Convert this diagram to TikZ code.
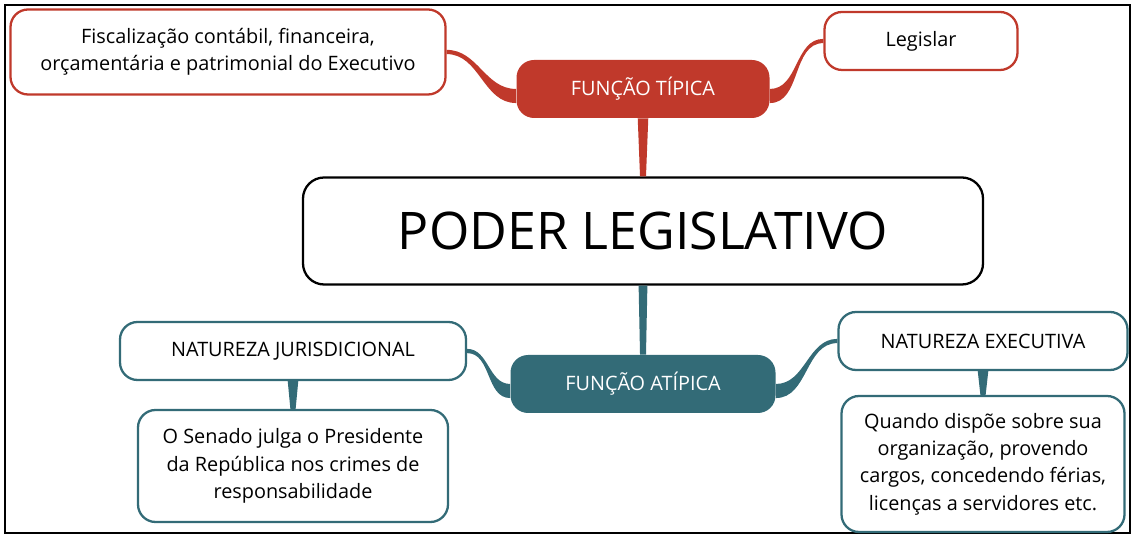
\documentclass[tikz,border=0pt]{standalone}
\usepackage{fontspec}
\setmainfont{Open Sans}
\definecolor{tipred}{HTML}{C0392B}
\definecolor{atipteal}{HTML}{336B77}

\begin{document}
\begin{tikzpicture}[
    leaf/.style={draw=#1, line width=1.3pt, fill=white, rounded corners=10pt,
        align=center, inner sep=0pt, font=\fontsize{11.3}{15.5}\selectfont},
    branch/.style={fill=#1, rounded corners=10pt, text=white, inner sep=0pt,
        minimum height=1.16cm, font=\fontsize{11.3}{14}\selectfont},
    root/.style={draw=black, line width=1.3pt, rounded corners=12pt, inner sep=0pt,
        minimum width=13.6cm, minimum height=2.14cm, font=\fontsize{29.5}{32}\selectfont}
]
    \useasboundingbox (0,0) rectangle (22.7,10.78);
    % Outer frame
    \draw[line width=0.8pt] (0.1,0.12) rectangle (22.6,10.68);

    % Centre
    \node[root] (poder) at (12.86, 6.16) {PODER LEGISLATIVO};

    % Typical function
    \node[branch=tipred, minimum width=5.06cm] (tipica) at (12.86, 9.0) {FUNÇÃO TÍPICA};
    \node[leaf=tipred, minimum width=8.7cm, minimum height=1.7cm] (fisc) at (4.56, 9.74)
        {Fiscalização contábil, financeira,\\ orçamentária e patrimonial do Executivo};
    \node[leaf=tipred, minimum width=3.86cm, minimum height=1.16cm] (legis) at (18.42, 9.96) {Legislar};

    % Atypical function
    \node[branch=atipteal, minimum width=5.3cm] (atipica) at (12.86, 3.1) {FUNÇÃO ATÍPICA};
    \node[leaf=atipteal, minimum width=6.92cm, minimum height=1.16cm] (juris) at (5.86, 3.76)
        {NATUREZA JURISDICIONAL};
    \node[leaf=atipteal, minimum width=6.2cm, minimum height=2.24cm] (senado) at (5.86, 1.46)
        {O Senado julga o Presidente\\ da República nos crimes de\\ responsabilidade};
    \node[leaf=atipteal, minimum width=5.78cm, minimum height=1.16cm] (exec) at (19.66, 3.96)
        {NATUREZA EXECUTIVA};
    \node[leaf=atipteal, minimum width=5.66cm, minimum height=2.72cm] (quando) at (19.66, 1.5)
        {Quando dispõe sobre sua\\ organização, provendo\\ cargos, concedendo férias,\\ licenças a servidores etc.};

    % Tapered links, typical side
    \fill[tipred] ([xshift=-3pt]tipica.south) -- ([xshift=3pt]tipica.south)
        -- ([xshift=1.7pt]poder.north) -- ([xshift=-1.7pt]poder.north) -- cycle;
    \fill[tipred] ([yshift=1.2pt]fisc.east) to[out=0, in=180] ([yshift=0pt]tipica.west)
        -- ([yshift=-8pt]tipica.west) to[out=180, in=0] ([yshift=-1.2pt]fisc.east) -- cycle;
    \fill[tipred] ([yshift=0pt]tipica.east) to[out=0, in=180] ([yshift=1.2pt]legis.west)
        -- ([yshift=-1.2pt]legis.west) to[out=180, in=0] ([yshift=-8pt]tipica.east) -- cycle;

    % Tapered links, atypical side
    \fill[atipteal] ([xshift=-2.5pt]poder.south) -- ([xshift=2.5pt]poder.south)
        -- ([xshift=1.7pt]atipica.north) -- ([xshift=-1.7pt]atipica.north) -- cycle;
    \fill[atipteal] ([yshift=1.2pt]juris.east) to[out=0, in=180] ([yshift=0pt]atipica.west)
        -- ([yshift=-8pt]atipica.west) to[out=180, in=0] ([yshift=-1.2pt]juris.east) -- cycle;
    \fill[atipteal] ([yshift=0pt]atipica.east) to[out=0, in=180] ([yshift=1.2pt]exec.west)
        -- ([yshift=-1.2pt]exec.west) to[out=180, in=0] ([yshift=-8pt]atipica.east) -- cycle;
    \fill[atipteal] ([xshift=-3pt]juris.south) -- ([xshift=3pt]juris.south)
        -- ([xshift=1.5pt]senado.north) -- ([xshift=-1.5pt]senado.north) -- cycle;
    \fill[atipteal] ([xshift=-3pt]exec.south) -- ([xshift=3pt]exec.south)
        -- ([xshift=1.5pt]quando.north) -- ([xshift=-1.5pt]quando.north) -- cycle;
\end{tikzpicture}
\end{document}
